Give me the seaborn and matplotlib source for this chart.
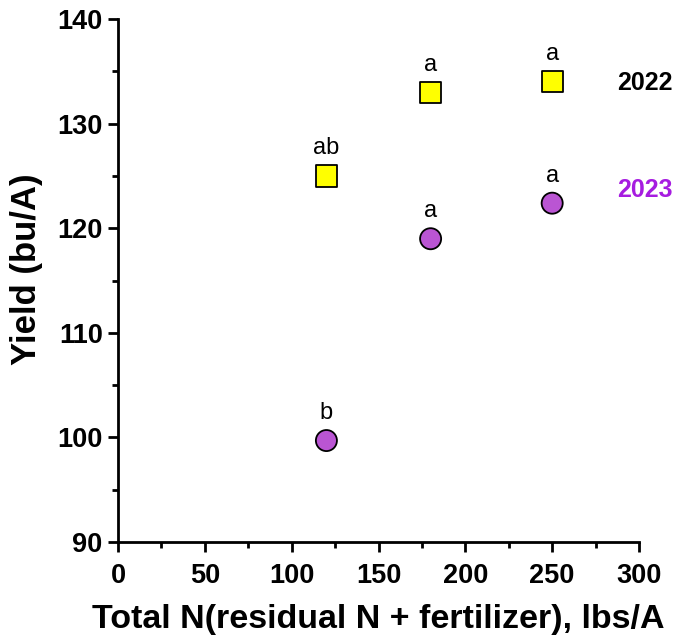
import matplotlib
matplotlib.use("Agg")
import matplotlib.pyplot as plt
import seaborn as sns
import pandas as pd
from matplotlib.ticker import MultipleLocator

sns.set_theme(style="ticks")
plt.rcParams['font.family'] = ['Liberation Sans', 'DejaVu Sans']
plt.rcParams['text.color'] = 'black'
plt.rcParams['axes.labelcolor'] = 'black'
plt.rcParams['xtick.color'] = 'black'
plt.rcParams['ytick.color'] = 'black'

total_n = [120, 180, 250]
yield_2022 = [125, 133, 134]
yield_2023 = [99.7, 119, 122.4]
letters_2022 = ["ab", "a", "a"]
letters_2023 = ["b", "a", "a"]
years = ["2022", "2023"]

df = pd.DataFrame({
    "N": total_n * 2,
    "Yield": yield_2022 + yield_2023,
    "Year": [years[0]] * 3 + [years[1]] * 3,
})

fig = plt.figure(figsize=(6.79, 6.38), dpi=100)
ax = fig.add_axes([0.1738, 0.1505, 0.7673, 0.8195])

sns.scatterplot(data=df, x="N", y="Yield", hue="Year", style="Year",
                palette={"2022": "#FFFF00", "2023": "#BA55D3"},
                markers={"2022": "s", "2023": "o"},
                s=230, edgecolor="black", linewidth=1.3, legend=False, ax=ax, zorder=3)

for x, y, t in zip(total_n, yield_2022, letters_2022):
    ax.annotate(t, (x, y), xytext=(0, 12), textcoords="offset points",
                ha="center", va="bottom", fontsize=17, color="black")
for x, y, t in zip(total_n, yield_2023, letters_2023):
    ax.annotate(t, (x, y), xytext=(0, 12), textcoords="offset points",
                ha="center", va="bottom", fontsize=17, color="black")

ax.text(319.5, 133.9, "2022", color="black",
        fontsize=18, fontweight="bold", ha="right", va="center", clip_on=False)
ax.text(319.5, 123.65, "2023", color="#A61CE0",
        fontsize=18, fontweight="bold", ha="right", va="center", clip_on=False)

ax.set_xlim(0, 300)
ax.set_ylim(90, 140)
ax.xaxis.set_major_locator(MultipleLocator(50))
ax.xaxis.set_minor_locator(MultipleLocator(25))
ax.yaxis.set_major_locator(MultipleLocator(10))
ax.yaxis.set_minor_locator(MultipleLocator(5))

for s in ["top", "right"]:
    ax.spines[s].set_visible(False)
for s in ["left", "bottom"]:
    ax.spines[s].set_linewidth(2)
    ax.spines[s].set_color("black")

ax.tick_params(which="major", length=7, width=2, color="black", labelsize=19.5)
ax.tick_params(axis="x", which="major", pad=8)
ax.tick_params(axis="y", which="major", pad=4)
ax.tick_params(which="minor", length=4, width=2, color="black")
for lab in ax.get_xticklabels() + ax.get_yticklabels():
    lab.set_fontweight("bold")

ax.set_xlabel("Total N(residual N + fertilizer), lbs/A", fontsize=24.5, fontweight="bold", labelpad=11)
ax.set_ylabel("Yield (bu/A)", fontsize=25, fontweight="bold")
ax.yaxis.set_label_coords(-0.144, 0.522)

fig.savefig("out.png", dpi=100)
